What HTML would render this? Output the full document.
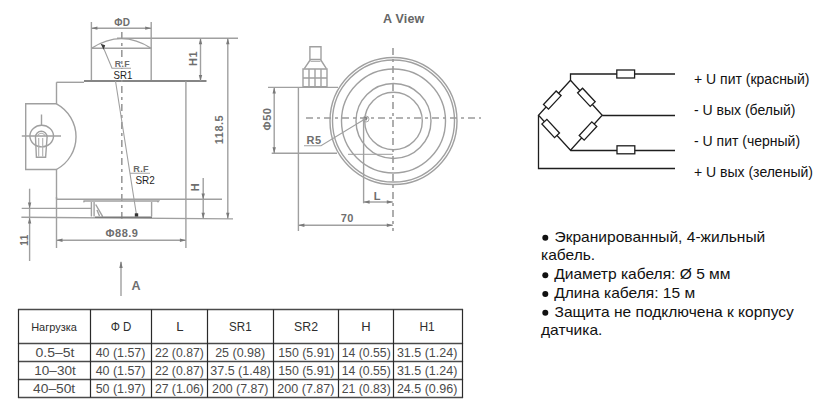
<!DOCTYPE html>
<html><head><meta charset="utf-8">
<style>
html,body{margin:0;padding:0;background:#fff;width:838px;height:410px;overflow:hidden}
svg{position:absolute;left:0;top:0;font-family:"Liberation Sans",sans-serif}
.d{stroke:#a0a0a0;stroke-width:1.4;fill:none}
.dl{stroke:#b0b0b0;stroke-width:1.1;fill:none}
.dd{stroke:#9a9a9a;stroke-width:1.6;fill:none;stroke-dasharray:7 4 3 4}
.ar{fill:#7a7a7a;stroke:none}
.dt{fill:#6e6e6e;font-size:11px;font-weight:bold;letter-spacing:0.5px}
.c{stroke:#1e1e1e;stroke-width:1.3;fill:none}
.rs{stroke:#1e1e1e;stroke-width:1.3;fill:#fff}
.t{stroke:#4a4a4a;stroke-width:1.5;fill:none}
.tv{stroke:#2a2a2a;stroke-width:1.2;fill:none}
.tt{fill:#4a4a4a;font-size:12px;text-anchor:middle}
.rt{fill:#111;font-size:14px}
.bt{fill:#111;font-size:15.55px}
.bu{fill:#111}
</style></head><body>
<svg width="838" height="410" viewBox="0 0 838 410">
<g id="left">
<!-- dome extension lines -->
<path class="d" d="M91.4 22 V80.5 M151.2 22 V80.5"/>
<path class="d" d="M91.4 28.2 H151.2"/>
<path class="ar" d="M91.4 28.2 l6 -1.6 v3.2z M151.2 28.2 l-6 -1.6 v3.2z"/>
<text class="dt" x="114.3" y="25.5" style="font-size:10px;letter-spacing:0">Φ</text>
<text class="dt" x="122.8" y="25.5" style="font-size:10px">D</text>
<!-- dome arc & chord -->
<path class="d" d="M91.4 48.3 Q121.5 29 151.2 48.3"/>
<path class="d" d="M91.4 48.3 H151.2"/>
<path class="d" d="M117 38.2 H238"/>
<!-- plate line -->
<path class="d" d="M84 81 H206.5" style="stroke-width:1.8;stroke:#858585"/>
<path class="d" d="M56.5 82.3 H84"/>
<!-- body -->
<path class="d" d="M56.5 82.3 V103.8 H25.7 V169.5 H56.5 V248"/>
<path class="d" d="M56.5 103.8 A37.4 37.4 0 0 1 56.5 169.5"/>
<path class="d" d="M185.9 81.2 V248"/>
<!-- connector -->
<ellipse class="d" cx="41.7" cy="136.1" rx="11.8" ry="10.8"/>
<path class="d" d="M36.4 157.3 L35.5 137 A5.8 5.8 0 0 1 47.1 137 L45.6 157.3 Z"/>
<path class="dl" d="M38.7 156.5 V138 M42.7 156.5 V138 M37.6 135.5 A4.2 4.2 0 0 1 45 135.5"/>
<path class="d" d="M21.8 136 H61 M41.5 114.5 V125.5"/>
<!-- center line -->
<path class="dd" d="M121.8 32 V223"/>
<!-- leaders -->
<rect x="113" y="69" width="19.5" height="11" fill="#fff"/>
<path class="d" d="M102.7 46 L112 68.3 H131" style="stroke-width:1.1"/>
<path d="M100.6 43.8 L105.2 45.2 L103.6 49.8Z" fill="#3a3a3a"/>
<text class="dt" x="114.8" y="67" style="font-size:9.5px;fill:#6a6a6a;letter-spacing:0.3px" textLength="15" lengthAdjust="spacingAndGlyphs">R.F</text>
<text x="113.5" y="78.5" style="font-size:11px;fill:#1e1e1e" textLength="18.8" lengthAdjust="spacingAndGlyphs">SR1</text>
<path class="d" d="M115.5 81 L136.5 215 M129.8 173.3 H150" style="stroke-width:1.1"/>
<rect x="134.8" y="213.3" width="3.4" height="3.4" fill="#333"/>
<text class="dt" x="133.3" y="171.6" style="font-size:9.5px;fill:#6a6a6a;letter-spacing:0.3px" textLength="15.5" lengthAdjust="spacingAndGlyphs">R.F</text>
<text x="135.4" y="183.5" style="font-size:11.5px;fill:#1e1e1e" textLength="19.3" lengthAdjust="spacingAndGlyphs">SR2</text>
<!-- bottom base -->
<path class="d" d="M56.5 199.3 H222 M56.5 197 V199.3"/>
<path class="d" d="M83.4 201 H158.6 L157.5 202.2 M83.4 201 L84.4 202.2"/>
<path class="d" d="M91.4 202 V216.5 M94.1 202 V216.5 M151.6 202 V216.5 M95.7 204.5 L102.7 216.6 M97 210 L99.5 216"/>
<path class="d" d="M21.7 208.4 H91.4 M21.4 217.2 L233 218.9"/>
<path class="d" d="M95 217.3 H152" style="stroke-width:1.6;stroke:#7a7a7a"/>
<!-- 11 dim -->
<path class="d" d="M29.6 188.7 V261"/>
<path class="ar" d="M29.6 208.4 l-1.7 -6 h3.4z M29.6 217.4 l-1.7 6 h3.4z"/>
<text class="dt" transform="translate(28.3,240) rotate(-90)" text-anchor="middle" style="font-size:10px">11</text>
<!-- H dim -->
<path class="d" d="M203.2 178 V218.8"/>
<path class="ar" d="M203.2 199.5 l-1.7 -6 h3.4z M203.2 218.8 l-1.7 -6 h3.4z"/>
<text class="dt" transform="translate(199,187) rotate(-90)" text-anchor="middle">H</text>
<!-- H1 dim -->
<path class="d" d="M200.5 38.2 V81"/>
<path class="ar" d="M200.5 38.2 l-1.7 6 h3.4z M200.5 81 l-1.7 -6 h3.4z"/>
<text class="dt" transform="translate(197,58.4) rotate(-90)" text-anchor="middle">H1</text>
<!-- 118.5 dim -->
<path class="d" d="M227.8 38.2 V218.8"/>
<path class="ar" d="M227.8 38.2 l-1.7 6 h3.4z M227.8 218.8 l-1.7 -6 h3.4z"/>
<text class="dt" transform="translate(222.8,129.5) rotate(-90)" text-anchor="middle">118.5</text>
<!-- phi 88.9 -->
<path class="d" d="M56.5 240.2 H185.9"/>
<path class="ar" d="M56.5 240.2 l6 -1.7 v3.4z M185.9 240.2 l-6 -1.7 v3.4z"/>
<text class="dt" x="105.5" y="236.5">Φ88.9</text>
<!-- A arrow -->
<path class="d" d="M121 262 V296"/>
<path class="ar" d="M121 261 l-1.7 7 h3.4z"/>
<text class="dt" x="131.5" y="290.2" style="font-size:12.5px;letter-spacing:0">A</text>

</g>
<g id="aview">
<text x="383" y="23" style="font-size:12.5px;font-weight:bold;fill:#666;letter-spacing:0.2px">A View</text>
<!-- connector -->
<path class="d" d="M309.9 46.8 H321 V59.5 H309.9Z M310.5 59.5 L304.3 68.6 M320.5 59.5 L326.4 68.6"/>
<path class="dl" d="M310.5 61.4 H320.5"/>
<path class="d" d="M303 69 H327 V86.8 H303Z M309 69 V86.8 M315 69 V86.8 M321 69 V86.8 M303 78 H327"/>
<!-- body -->
<path class="d" d="M268 87.4 H338"/>
<path class="d" d="M298.4 87.4 V231"/>
<path class="d" d="M271.7 153.3 H337"/>
<path class="dl" d="M348 154.4 H393"/>
<!-- phi 50 dim -->
<path class="d" d="M274.2 87.4 V153.3"/>
<path class="ar" d="M274.2 87.4 l-1.7 6 h3.4z M274.2 153.3 l-1.7 -6 h3.4z"/>
<text class="dt" transform="translate(270.7,119) rotate(-90)" text-anchor="middle">Φ50</text>
<!-- circles -->
<circle class="d" cx="393.5" cy="121" r="63.5"/>
<circle class="d" cx="393.5" cy="121" r="61"/>
<circle class="d" cx="393.5" cy="121" r="52"/>
<circle class="d" cx="393.5" cy="121" r="37.5"/>
<circle class="d" cx="393.5" cy="121" r="28.8"/>
<!-- center lines -->
<path class="dd" d="M306 118 H481"/>
<path class="dd" d="M393 48 V231"/>
<!-- R5 -->
<circle class="d" cx="366" cy="119" r="3" style="stroke-width:0.9"/>
<path class="ar" d="M364 117 L368 117.5 L366 121Z"/>
<path class="d" d="M304 145.7 H321 L365.8 118.5" style="stroke-width:1.1"/>
<path class="d" d="M363.6 118.5 V203.3"/>
<text class="dt" x="306.5" y="143.5">R5</text>
<!-- L dim -->
<path class="d" d="M363.6 202 H392.8"/>
<path class="ar" d="M363.6 202 l6 -1.7 v3.4z M392.8 202 l-6 -1.7 v3.4z"/>
<text class="dt" x="373.8" y="199.5">L</text>
<!-- 70 dim -->
<path class="d" d="M298.4 225.3 H392.8"/>
<path class="ar" d="M298.4 225.3 l6 -1.7 v3.4z M392.8 225.3 l-6 -1.7 v3.4z"/>
<text class="dt" x="347.3" y="222" text-anchor="middle">70</text>

</g>
<g id="circuit">

<path class="c" d="M570.5 80.3 L538.5 115.3 L570.5 150.2 L602.2 115.3 Z"/>
<path class="c" d="M570.5 80.3 V74 H675 M602.2 115.5 H675 M570.5 150.5 H675 M538.5 115.3 V168.5 H675"/>
<rect class="rs" x="-9.25" y="-3.4" width="18.5" height="6.8" transform="translate(552.3,100.1) rotate(-47)"/>
<rect class="rs" x="-9.25" y="-3.4" width="18.5" height="6.8" transform="translate(586.4,97.3) rotate(47)"/>
<rect class="rs" x="-9.25" y="-3.4" width="18.5" height="6.8" transform="translate(550.7,128.5) rotate(47)"/>
<rect class="rs" x="-9.25" y="-3.4" width="18.5" height="6.8" transform="translate(588.0,131.0) rotate(-47)"/>
<rect class="rs" x="616.8" y="70" width="17.8" height="8"/>
<rect class="rs" x="617" y="145.8" width="17.8" height="8"/>
<text class="rt" x="694" y="83.9">+ U пит (красный)</text>
<text class="rt" x="694" y="114.6">- U вых (белый)</text>
<text class="rt" x="694" y="146.1">- U пит (черный)</text>
<text class="rt" x="694" y="177">+ U вых (зеленый)</text>

</g>
<g id="bullets">

<circle class="bu" cx="545.3" cy="237.8" r="3"/>
<text class="bt" x="554.5" y="241.6">Экранированный, 4-жильный</text>
<text class="bt" x="541" y="260.3">кабель.</text>
<circle class="bu" cx="545.3" cy="275.2" r="3"/>
<text class="bt" x="554.2" y="279.0">Диаметр кабеля: Ø 5 мм</text>
<circle class="bu" cx="545.3" cy="294.0" r="3"/>
<text class="bt" x="554.2" y="297.8">Длина кабеля: 15 м</text>
<circle class="bu" cx="545.3" cy="312.7" r="3"/>
<text class="bt" x="554.5" y="316.5">Защита не подключена к корпусу</text>
<text class="bt" x="541" y="335.2">датчика.</text>

</g>
<g id="table">
<path class="t" d="M17.9 309.5 H463.1 M17.9 343.5 H463.1 M17.9 361.5 H463.1 M17.9 379.5 H463.1 M17.9 397.5 H463.1"/>
<path class="tv" d="M18.5 309.5 V397.5 M90.5 309.5 V397.5 M151.5 309.5 V397.5 M207.5 309.5 V397.5 M273.5 309.5 V397.5 M338.5 309.5 V397.5 M393.5 309.5 V397.5 M462.5 309.5 V397.5"/>
<text class="tt" x="54.05" y="331.3" style="font-size:11px;fill:#2e2e2e" textLength="45.7" lengthAdjust="spacingAndGlyphs">Нагрузка</text>
<text class="tt" x="121.05" y="331.3" style="font-size:12px;fill:#2e2e2e" textLength="20.7" lengthAdjust="spacingAndGlyphs">Φ D</text>
<text class="tt" x="179.95" y="331.3" style="font-size:12px;fill:#2e2e2e" textLength="7.3" lengthAdjust="spacingAndGlyphs">L</text>
<text class="tt" x="240.35" y="331.3" style="font-size:12px;fill:#2e2e2e" textLength="22.5" lengthAdjust="spacingAndGlyphs">SR1</text>
<text class="tt" x="306.05" y="331.3" style="font-size:12px;fill:#2e2e2e" textLength="23.9" lengthAdjust="spacingAndGlyphs">SR2</text>
<text class="tt" x="366.0" y="331.3" style="font-size:12px;fill:#2e2e2e" textLength="9.4" lengthAdjust="spacingAndGlyphs">H</text>
<text class="tt" x="427.05" y="331.3" style="font-size:12px;fill:#2e2e2e" textLength="15.3" lengthAdjust="spacingAndGlyphs">H1</text>
<text class="tt" x="55" y="357.0" textLength="39.0" lengthAdjust="spacingAndGlyphs">0.5–5t</text>
<text class="tt" x="120.55" y="357.0" textLength="49.7" lengthAdjust="spacingAndGlyphs">40 (1.57)</text>
<text class="tt" x="179.35" y="357.0" textLength="48.9" lengthAdjust="spacingAndGlyphs">22 (0.87)</text>
<text class="tt" x="240.15" y="357.0" textLength="49.9" lengthAdjust="spacingAndGlyphs">25 (0.98)</text>
<text class="tt" x="306.35" y="357.0" textLength="56.3" lengthAdjust="spacingAndGlyphs">150 (5.91)</text>
<text class="tt" x="366.25" y="357.0" textLength="48.9" lengthAdjust="spacingAndGlyphs">14 (0.55)</text>
<text class="tt" x="427.15" y="357.0" textLength="60.5" lengthAdjust="spacingAndGlyphs">31.5 (1.24)</text>
<text class="tt" x="55" y="375.1" textLength="41.4" lengthAdjust="spacingAndGlyphs">10–30t</text>
<text class="tt" x="120.55" y="375.1" textLength="49.7" lengthAdjust="spacingAndGlyphs">40 (1.57)</text>
<text class="tt" x="179.35" y="375.1" textLength="48.9" lengthAdjust="spacingAndGlyphs">22 (0.87)</text>
<text class="tt" x="240.55" y="375.1" textLength="60.5" lengthAdjust="spacingAndGlyphs">37.5 (1.48)</text>
<text class="tt" x="306.35" y="375.1" textLength="56.3" lengthAdjust="spacingAndGlyphs">150 (5.91)</text>
<text class="tt" x="366.25" y="375.1" textLength="48.9" lengthAdjust="spacingAndGlyphs">14 (0.55)</text>
<text class="tt" x="427.15" y="375.1" textLength="60.5" lengthAdjust="spacingAndGlyphs">31.5 (1.24)</text>
<text class="tt" x="54.15" y="393.2" textLength="42.1" lengthAdjust="spacingAndGlyphs">40–50t</text>
<text class="tt" x="120.55" y="393.2" textLength="49.7" lengthAdjust="spacingAndGlyphs">50 (1.97)</text>
<text class="tt" x="179.35" y="393.2" textLength="48.9" lengthAdjust="spacingAndGlyphs">27 (1.06)</text>
<text class="tt" x="240.2" y="393.2" textLength="56.4" lengthAdjust="spacingAndGlyphs">200 (7.87)</text>
<text class="tt" x="305.9" y="393.2" textLength="57.2" lengthAdjust="spacingAndGlyphs">200 (7.87)</text>
<text class="tt" x="366.25" y="393.2" textLength="48.9" lengthAdjust="spacingAndGlyphs">21 (0.83)</text>
<text class="tt" x="427.15" y="393.2" textLength="60.5" lengthAdjust="spacingAndGlyphs">24.5 (0.96)</text>
</g>
</svg>
</body></html>
